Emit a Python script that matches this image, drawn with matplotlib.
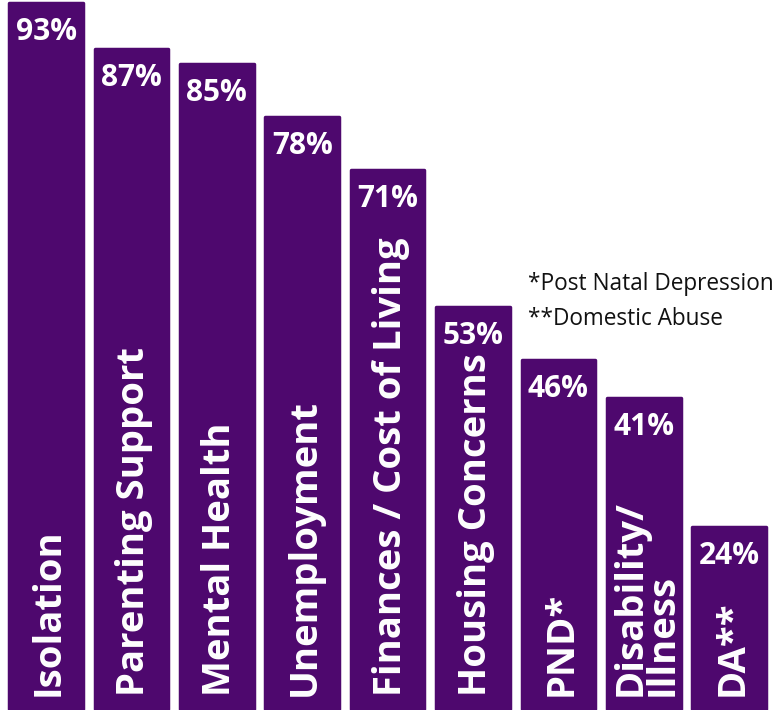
import matplotlib.pyplot as plt
import numpy as np

categories = ['Isolation', 'Parenting Support', 'Mental Health', 'Unemployment',
              'Finances / Cost of Living', 'Housing Concerns', 'PND*',
              'Disability/\nIllness', 'DA**']
values = [93, 87, 85, 78, 71, 53, 46, 41, 24]
notes = ['*Post Natal Depression', '**Domestic Abuse']

purple = '#4E086E'
plt.rcParams['font.family'] = ['Open Sans', 'DejaVu Sans']

fig = plt.figure(figsize=(7.76, 7.10), dpi=100)
ax = fig.add_axes([0, 0, 1, 1])
x = np.arange(len(values))

ax.bar(x, values, width=0.86, color=purple, edgecolor=purple, lw=2.5,
       joinstyle='round', zorder=2)

px = 0.72  # points per pixel at dpi 100
for xi, v, c in zip(x, values, categories):
    ax.annotate(f'{v}%', (xi, v), xytext=(0, -29 * px), textcoords='offset points',
                ha='center', va='center', color='white', fontsize=21.5,
                fontweight='bold')
    ax.annotate(c, (xi, 0), xytext=(3 * px, 13 * px), textcoords='offset points',
                rotation=90, rotation_mode='anchor', ha='left', va='center',
                color='white', fontsize=27.5, fontweight='bold',
                multialignment='left', linespacing=0.8)

for i, n in enumerate(notes):
    fig.text(528 / 776, 1 - (284 + i * 35) / 710, n, fontsize=16.3,
             color='#111111', va='center', ha='left')

ax.set_xlim(-0.539, 8.548)
ax.set_ylim(-0.13, 93.4)
ax.axis('off')

fig.savefig('out.png', dpi=100)
